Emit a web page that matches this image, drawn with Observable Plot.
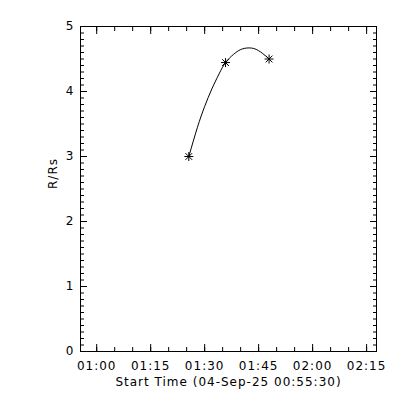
<!DOCTYPE html>
<html>
<head>
<meta charset="utf-8">
<script src="https://cdn.jsdelivr.net/npm/d3@7"></script>
<script src="https://cdn.jsdelivr.net/npm/@observablehq/plot@0.6"></script>
<style>
  html, body { margin: 0; padding: 0; background: #fff; }
  #chart { width: 400px; height: 400px; }
</style>
</head>
<body>
<div id="chart"></div>
<script>
// ---- data ----
const day = "2025-09-04";
const xStart = "00:55:30";
const xEnd = "02:17:45";
const pointTimes = ["01:25:36", "01:35:48", "01:47:54"];
const pointValues = [3.00, 4.445, 4.50];
// fitted curve
const fitTimes = ["01:25:36", "01:28:00", "01:30:00", "01:32:00", "01:34:00", "01:35:48", "01:38:00", "01:40:00", "01:42:00", "01:44:00", "01:46:00", "01:47:54"];
const fitValues = [3.00, 3.45, 3.77, 4.04, 4.27, 4.445, 4.57, 4.645, 4.67, 4.655, 4.59, 4.50];
const xMajorTicks = ["01:00", "01:15", "01:30", "01:45", "02:00", "02:15"];
const yMajorTicks = [0, 1, 2, 3, 4, 5];
const yDomain = [0, 5];
const xTitle = "Start Time (04-Sep-25 00:55:30)";
const yTitle = "R/Rs";

// ---- build ----
const t = s => new Date(`${day}T${s.length === 5 ? s + ":00" : s}Z`);
const points = pointTimes.map((s, i) => ({time: t(s), value: pointValues[i]}));
const fit = fitTimes.map((s, i) => ({time: t(s), value: fitValues[i]}));
const xDomain = [t(xStart), t(xEnd)];
const xMajor = xMajorTicks.map(t);
const xMinor = d3.utcMinute.every(5).range(xDomain[0], xDomain[1]);
const yMinor = d3.range(0, 50).map(i => i / 10);
const fmt = d3.utcFormat("%H:%M");

const star = {
  draw(ctx, size) {
    const r = Math.sqrt(size / Math.PI);
    const d = r * 0.75;
    ctx.moveTo(-r, 0); ctx.lineTo(r, 0);
    ctx.moveTo(0, -r); ctx.lineTo(0, r);
    ctx.moveTo(-d, -d); ctx.lineTo(d, d);
    ctx.moveTo(-d, d); ctx.lineTo(d, -d);
  }
};

const font = {fontFamily: "DejaVu Sans", fontSize: "12px", letterSpacing: "1px"};
const blank = () => "";

const chart = Plot.plot({
  width: 400,
  height: 400,
  marginLeft: 80,
  marginRight: 24,
  marginTop: 26,
  marginBottom: 49,
  style: {background: "#fff", color: "#000", ...font},
  x: {type: "utc", domain: xDomain},
  y: {domain: yDomain},
  marks: [
    Plot.frame({stroke: "#000"}),
    // bottom ticks and labels
    Plot.axisX({anchor: "bottom", ticks: xMinor, tickSize: -4, tickFormat: blank, label: null}),
    Plot.axisX({anchor: "bottom", ticks: xMajor, tickSize: -7, tickFormat: blank, label: null}),
    Plot.axisX({anchor: "bottom", ticks: xMajor, tickSize: 0, tickPadding: 10, tickFormat: fmt, label: null, fontSize: 12}),
    // top ticks
    Plot.axisX({anchor: "top", ticks: xMinor, tickSize: -4, tickFormat: blank, label: null}),
    Plot.axisX({anchor: "top", ticks: xMajor, tickSize: -7, tickFormat: blank, label: null}),
    // left ticks and labels
    Plot.axisY({anchor: "left", ticks: yMinor, tickSize: -4, tickFormat: blank, label: null}),
    Plot.axisY({anchor: "left", ticks: yMajorTicks, tickSize: -7, tickFormat: blank, label: null}),
    Plot.axisY({anchor: "left", ticks: yMajorTicks, tickSize: 0, tickPadding: 6, tickFormat: d => String(d), label: null, fontSize: 12}),
    // right ticks
    Plot.axisY({anchor: "right", ticks: yMinor, tickSize: -4, tickFormat: blank, label: null}),
    Plot.axisY({anchor: "right", ticks: yMajorTicks, tickSize: -7, tickFormat: blank, label: null}),
    // titles
    Plot.text([xTitle], {frameAnchor: "bottom", dy: 31, lineAnchor: "middle", fontSize: 12}),
    Plot.text([yTitle], {frameAnchor: "left", dx: -27, rotate: -90, lineAnchor: "middle", fontSize: 12}),
    // data
    Plot.line(fit, {x: "time", y: "value", stroke: "#000", strokeWidth: 1, curve: "natural"}),
    Plot.dot(points, {x: "time", y: "value", symbol: star, r: 4.5, stroke: "#000", fill: "none", strokeWidth: 1})
  ]
});
document.getElementById("chart").appendChild(chart);
</script>
</body>
</html>
